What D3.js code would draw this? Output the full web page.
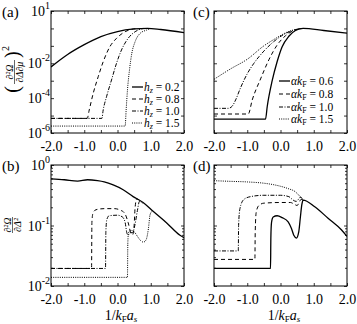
<!DOCTYPE html>
<html><head><meta charset="utf-8">
<script src="https://cdn.jsdelivr.net/npm/d3@7"></script>
<style>
body{margin:0;background:#fff}
svg, svg text{font-family:"Liberation Serif","Times New Roman","DejaVu Serif",serif}
</style></head><body>
<svg id="c" width="357" height="324"></svg>
<script>
// ---------- data ----------
const xTickVals = [-2,-1.5,-1,-0.5,0,0.5,1,1.5,2];
const xLabelVals = [-2,-1,0,1,2];
const xLabelText = ["-2.0","-1.0","0.0","1.0","2.0"];
const topDecades = [1e-6,1e-5,1e-4,1e-3,1e-2,1e-1,1,10];
const topLabelVals = [10,1e-2,1e-4,1e-6];
const topLabelExp = ["1","-2","-4","-6"];
const botLabelVals = [1,0.1,0.01];
const botLabelExp = ["0","-1","-2"];
const botMinor = [0.02,0.03,0.04,0.05,0.06,0.07,0.08,0.09,0.2,0.3,0.4,0.5,0.6,0.7,0.8,0.9];
const hzValues = ["0.2","0.8","1.0","1.5"];
const akValues = ["0.6","0.8","1.0","1.5"];

// panel (a): (dΩ/dΔdμ)^2, h_z series
const a_h02 = [[-2,6.2e-3],[-1.5,3.2e-2],[-1,0.117],[-0.5,0.34],[0,0.66],[0.5,0.93],[0.9,1.02],[1.3,0.87],[2,0.58]];
const a_h08 = [[-2,6.9e-6],[-0.91,6.9e-6],[-0.85,2.1e-5],[-0.73,1.9e-4],[-0.58,1.7e-3],[-0.43,1.23e-2],[-0.23,8.9e-2],[-0.03,0.27],[0.23,0.65],[0.48,0.93],[0.63,0.97]];
const a_h10 = [[-2,6.9e-6],[-0.47,6.9e-6],[-0.43,2.1e-5],[-0.33,1.2e-4],[-0.18,1.1e-3],[-0.03,1e-2],[0.12,5.8e-2],[0.32,0.27],[0.53,0.65],[0.78,1.0]];
const a_h15 = [[-2,2.5e-6],[0.23,2.5e-6],[0.26,2.1e-5],[0.30,2.95e-4],[0.36,4.1e-3],[0.43,3.7e-2],[0.53,0.174],[0.68,0.52],[0.88,0.81],[1.0,1.0]];

// panel (c): alpha k_F series
const c_a06 = [[-2,6.3e-6],[-0.45,6.3e-6],[-0.4,3.2e-5],[-0.25,1e-3],[-0.1,1.26e-2],[0.05,8.9e-2],[0.25,0.355],[0.45,0.76],[0.68,1.0],[1.3,0.76],[2,0.54]];
const c_a08 = [[-2,1.23e-5],[-0.97,1.23e-5],[-0.85,7.9e-5],[-0.6,1.26e-3],[-0.35,1.58e-2],[-0.1,0.112],[0.15,0.38],[0.4,0.76],[0.65,0.98]];
const c_a10 = [[-2,2.6e-5],[-1.57,2.6e-5],[-1.45,3.5e-5],[-1.35,7.9e-5],[-1.2,4e-4],[-1.0,2.5e-3],[-0.8,1e-2],[-0.5,5e-2],[-0.2,0.178],[0.1,0.45],[0.4,0.79],[0.68,1.0]];
const c_a15 = [[-2,1.2e-3],[-1.5,4.8e-3],[-1.0,1.7e-2],[-0.5,0.1],[-0.17,0.25],[0.23,0.65],[0.53,0.93],[0.68,1.0]];

// panel (b): d2Ω/dΔ2, h_z series
const b_h02 = [[-2,0.59],[-1.6,0.57],[-1.2,0.543],[-0.9,0.57],[-0.6,0.55],[-0.4,0.525],[-0.13,0.468],[0.17,0.39],[0.47,0.30],[0.77,0.24],[1.08,0.17],[1.48,0.11],[1.88,0.069],[2,0.063]];
const b_h08 = [[-2,0.0195],[-0.78,0.0195],[-0.77,0.112],[-0.74,0.158],[-0.65,0.182],[-0.4,0.19],[-0.1,0.19],[0.1,0.178],[0.22,0.158],[0.32,0.112],[0.4,0.076],[0.46,0.071],[0.5,0.1],[0.53,0.2],[0.58,0.275],[0.7,0.25]];
const b_h10 = [[-2,0.0195],[-0.36,0.0195],[-0.35,0.079],[-0.32,0.126],[-0.25,0.145],[0,0.148],[0.15,0.138],[0.23,0.112],[0.28,0.076],[0.32,0.069],[0.38,0.076],[0.45,0.076],[0.52,0.1],[0.6,0.178],[0.66,0.25],[0.75,0.234]];
const b_h15 = [[-2,0.0139],[0.30,0.0139],[0.31,0.05],[0.33,0.076],[0.4,0.083],[0.5,0.079],[0.6,0.066],[0.7,0.056],[0.78,0.053],[0.86,0.058],[0.93,0.089],[0.98,0.151],[1.05,0.175]];

// panel (d): alpha k_F series
const d_a06 = [[-2,0.0195],[-0.30,0.0195],[-0.29,0.063],[-0.27,0.112],[-0.22,0.138],[-0.1,0.145],[0.05,0.135],[0.23,0.115],[0.33,0.089],[0.4,0.069],[0.48,0.062],[0.55,0.079],[0.6,0.141],[0.64,0.219],[0.68,0.263],[1.03,0.204],[1.43,0.132],[1.83,0.085],[2,0.066]];
const d_a08 = [[-2,0.0275],[-0.77,0.0275],[-0.76,0.079],[-0.73,0.166],[-0.65,0.214],[-0.5,0.234],[0,0.24],[0.3,0.24],[0.42,0.224],[0.5,0.214],[0.56,0.24],[0.62,0.27],[0.68,0.263]];
const d_a10 = [[-2,0.038],[-1.27,0.038],[-1.26,0.1],[-1.22,0.19],[-1.1,0.27],[-0.9,0.30],[-0.5,0.316],[0,0.316],[0.25,0.30],[0.38,0.263],[0.47,0.25],[0.55,0.275],[0.6,0.295],[0.68,0.263]];
const d_a15 = [[-2,0.55],[-1.5,0.537],[-1.0,0.525],[-0.5,0.50],[-0.17,0.468],[0.23,0.407],[0.44,0.363],[0.59,0.30],[0.68,0.263]];

// ---------- styles ----------
const FONT = "'Liberation Serif', 'Times New Roman', 'DejaVu Serif', serif";
const dashes = [null, "4,3", "4,1.5,1,1.5", "1,1.2"];
const widths = [1.3, 1, 1, 1];

const svg = d3.select("#c").attr("font-family", FONT);
svg.append("rect").attr("width",357).attr("height",324).attr("fill","#fff");

const panels = [
  {id:"a", xr:[51,184], yr:[133,11], dom:[1e-6,10], series:[a_h02,a_h08,a_h10,a_h15], ylab:"top"},
  {id:"c", xr:[214,347], yr:[133,11], dom:[1e-6,10], series:[c_a06,c_a08,c_a10,c_a15], ylab:null},
  {id:"b", xr:[51,184], yr:[286,165], dom:[1e-2,1], series:[b_h02,b_h08,b_h10,b_h15], ylab:"bot"},
  {id:"d", xr:[214,347], yr:[286,165], dom:[1e-2,1], series:[d_a06,d_a08,d_a10,d_a15], ylab:null}
];

panels.forEach(p => {
  const x = d3.scaleLinear().domain([-2,2]).range(p.xr);
  const y = d3.scaleLog().domain(p.dom).range(p.yr);
  const g = svg.append("g");
  const cid = "clip"+p.id;
  svg.append("clipPath").attr("id",cid).append("rect")
    .attr("x",p.xr[0]).attr("y",p.yr[1]).attr("width",p.xr[1]-p.xr[0]).attr("height",p.yr[0]-p.yr[1]);

  const line = d3.line().x(d=>x(d[0])).y(d=>y(d[1])).curve(d3.curveMonotoneX);
  const cg = g.append("g").attr("clip-path","url(#"+cid+")");
  for (let i = 3; i >= 0; i--) {
    cg.append("path").attr("d", line(p.series[i])).attr("fill","none")
      .attr("stroke","#000").attr("stroke-width",widths[i])
      .attr("stroke-dasharray",dashes[i]);
  }

  const xb = g.append("g").attr("transform","translate(0,"+p.yr[0]+")")
    .call(d3.axisBottom(x).tickValues(xTickVals).tickSize(-3).tickPadding(8)
      .tickFormat(d => { const k = xLabelVals.indexOf(d); return k>=0 ? xLabelText[k] : ""; }));
  g.append("g").attr("transform","translate(0,"+p.yr[1]+")")
    .call(d3.axisTop(x).tickValues(xTickVals).tickSize(-3).tickFormat(""));
  const major = p.dom[0] === 1e-6 ? topDecades : [0.01,0.1,1];
  g.append("g").attr("transform","translate("+p.xr[0]+",0)")
    .call(d3.axisLeft(y).tickValues(major).tickSize(-3).tickFormat(""));
  g.append("g").attr("transform","translate("+p.xr[1]+",0)")
    .call(d3.axisRight(y).tickValues(major).tickSize(-3).tickFormat(""));
  if (p.dom[0] === 1e-2) {
    g.append("g").attr("transform","translate("+p.xr[0]+",0)")
      .call(d3.axisLeft(y).tickValues(botMinor).tickSize(-2).tickFormat(""));
    g.append("g").attr("transform","translate("+p.xr[1]+",0)")
      .call(d3.axisRight(y).tickValues(botMinor).tickSize(-2).tickFormat(""));
  }
  g.selectAll(".domain").remove();
  g.selectAll("g").attr("font-family", FONT);
  g.selectAll(".tick line").attr("stroke","#000").attr("stroke-width",0.8);
  xb.selectAll("text").attr("font-family",FONT).attr("font-size",14).attr("fill","#000");

  g.append("rect").attr("x",p.xr[0]).attr("y",p.yr[1]).attr("width",p.xr[1]-p.xr[0])
    .attr("height",p.yr[0]-p.yr[1]).attr("fill","none").attr("stroke","#000").attr("stroke-width",1);

  if (p.ylab) {
    const vals = p.ylab === "top" ? topLabelVals : botLabelVals;
    const exps = p.ylab === "top" ? topLabelExp : botLabelExp;
    vals.forEach((v,k) => {
      const t = g.append("text").attr("x",p.xr[0]-1).attr("y",y(v)+5).attr("font-family",FONT)
        .attr("text-anchor","end").attr("font-size",14).attr("fill","#000");
      t.append("tspan").text("10");
      t.append("tspan").attr("dy",-7).attr("font-size",10).text(exps[k]);
    });
  }
  svg.append("text").attr("x", p.xr[0] - (p.xr[0]===51 ? 49 : 21)).attr("y", p.yr[1] + 6)
    .attr("font-family",FONT).attr("font-size",15).attr("fill","#000").text("("+p.id+")");
});

function legend(x0, ys, isH, vals) {
  vals.forEach((v,i) => {
    svg.append("line").attr("x1",x0).attr("x2",x0+11).attr("y1",ys[i]).attr("y2",ys[i])
      .attr("stroke","#000").attr("stroke-width",widths[i]).attr("stroke-dasharray",dashes[i]);
    const t = svg.append("text").attr("x",x0+12).attr("y",ys[i]+4).attr("font-family",FONT)
      .attr("font-size",11.5).attr("fill","#000");
    if (isH) {
      t.append("tspan").attr("font-style","italic").text("h");
      t.append("tspan").attr("font-style","italic").attr("font-size",8).attr("dy",2).text("z");
      t.append("tspan").attr("dy",-2).text(" = " + v);
    } else {
      t.append("tspan").attr("font-style","italic").text("αk");
      t.append("tspan").attr("font-size",8).attr("dy",2).text("F");
      t.append("tspan").attr("dy",-2).text(" = " + v);
    }
  });
}
legend(132, [87,99,111,123], true, hzValues);
legend(279, [81,94,107,119], false, akValues);

const ga = svg.append("g").attr("transform","translate(14,72) rotate(-90)").attr("font-family",FONT);
ga.append("text").attr("x",-14).attr("y",5).attr("text-anchor","end").attr("font-size",20).text("(");
ga.append("text").attr("x",14).attr("y",5).attr("text-anchor","start").attr("font-size",20).text(")");
ga.append("text").attr("x",21).attr("y",-5).attr("font-size",10).text("2");
ga.append("text").attr("x",0).attr("y",-1.5).attr("text-anchor","middle").attr("font-size",10).attr("font-style","italic").text("∂²Ω");
ga.append("line").attr("x1",-12).attr("x2",12).attr("y1",0.5).attr("y2",0.5).attr("stroke","#000").attr("stroke-width",0.6);
ga.append("text").attr("x",0).attr("y",8.5).attr("text-anchor","middle").attr("font-size",10).attr("font-style","italic").text("∂Δ∂μ");

const gb = svg.append("g").attr("transform","translate(12,225) rotate(-90)").attr("font-family",FONT);
gb.append("text").attr("x",0).attr("y",-1.5).attr("text-anchor","middle").attr("font-size",10).attr("font-style","italic").text("∂²Ω");
gb.append("line").attr("x1",-8).attr("x2",8).attr("y1",0.5).attr("y2",0.5).attr("stroke","#000").attr("stroke-width",0.6);
gb.append("text").attr("x",0).attr("y",8.5).attr("text-anchor","middle").attr("font-size",10).attr("font-style","italic").text("∂Δ²");

[121, 284].forEach(cx => {
  const t = svg.append("text").attr("x",cx).attr("y",320).attr("text-anchor","middle")
    .attr("font-family",FONT).attr("font-size",14).attr("fill","#000");
  t.append("tspan").text("1/");
  t.append("tspan").attr("font-style","italic").text("k");
  t.append("tspan").attr("font-size",9).attr("dy",2).text("F");
  t.append("tspan").attr("font-style","italic").attr("dy",-2).text("a");
  t.append("tspan").attr("font-style","italic").attr("font-size",9).attr("dy",2).text("s");
});
</script></body></html>
